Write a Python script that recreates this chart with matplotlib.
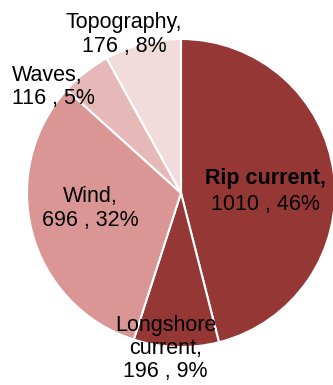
import matplotlib
matplotlib.use("Agg")
from matplotlib import pyplot as plt

plt.rcParams['font.family'] = ['Liberation Sans', 'DejaVu Sans']

# Causes of rescues, counts per category
categories = ['Rip current', 'Longshore\ncurrent', 'Wind', 'Waves', 'Topography']
counts = [1010, 196, 696, 116, 176]
colors = ['#953735', '#953735', '#D99694', '#E6B9B8', '#F2DCDB']

# label anchors in pie units (radius = 1)
label_pos = [(0.55, 0.01), (-0.10, -1.01), (-0.59, -0.10), (-1.10, 0.69), (-0.37, 1.03)]
label_ha = ['center', 'center', 'center', 'left', 'center']

FS = 15.5
total = sum(counts)
value_strs = [f"{c} , {round(c / total * 100)}%" for c in counts]
labels = [f"{name},\n{v}" for name, v in zip(categories, value_strs)]

fig = plt.figure(figsize=(3.33, 3.85), dpi=100)
r_px = 154
cx, cy = 181, 193
ax = fig.add_axes([(cx - r_px) / 333, (385 - cy - r_px) / 385, 2 * r_px / 333, 2 * r_px / 385])

wedges, texts = ax.pie(counts, colors=colors, startangle=90, counterclock=False,
                       labels=labels, labeldistance=0.5,
                       wedgeprops={'edgecolor': 'white', 'linewidth': 1.5},
                       textprops={'fontsize': FS, 'color': 'black',
                                  'ha': 'center', 'va': 'center',
                                  'linespacing': 1.15})
ax.set_xlim(-1, 1)
ax.set_ylim(-1, 1)
ax.set_aspect('equal')

for t, pos, ha in zip(texts, label_pos, label_ha):
    t.set_position(pos)
    t.set_horizontalalignment(ha)
    t.set_multialignment(ha)
    t.set_clip_on(False)

# the category name of the biggest slice is bold
texts[0].set_text('')
ax.text(label_pos[0][0], label_pos[0][1] + 0.085, categories[0] + ',', fontsize=FS,
        fontweight='bold', ha='center', va='center')
ax.text(label_pos[0][0], label_pos[0][1] - 0.085, value_strs[0], fontsize=FS,
        ha='center', va='center')

fig.savefig('out.png', dpi=100)
